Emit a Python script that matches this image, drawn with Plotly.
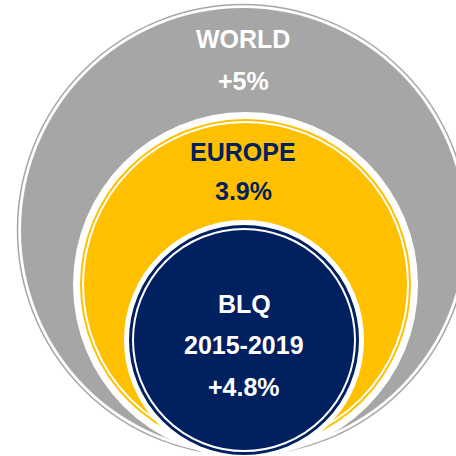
import plotly.graph_objects as go

# ---- data ----
regions = ["WORLD", "EUROPE", "BLQ<br>2015-2019"]
growth = ["+5%", "3.9%", "+4.8%"]

# ---- layout constants (geometry / styles) ----
W = H = 456
GRAY = "#A6A6A6"
YELLOW = "#FFC000"
NAVY = "#002060"
WHITE = "#FFFFFF"

# circle centres and radii (pixels)
world_c, world_r = (243, 230), 222
europe_c, europe_r = (245.5, 284.5), 172.5
blq_c, blq_r = (244, 340), 120

def circ(c, r, fill=None, line=None, lw=0):
    return dict(type="circle", xref="x", yref="y",
                x0=c[0] - r, x1=c[0] + r, y0=c[1] - r, y1=c[1] + r,
                fillcolor=fill if fill else "rgba(0,0,0,0)",
                line=dict(color=line if line else "rgba(0,0,0,0)", width=lw),
                layer="below")

shapes = [
    circ(world_c, world_r + 3.5, None, GRAY, 1.5),
    circ(world_c, world_r, GRAY),
    circ(europe_c, europe_r, WHITE),
    circ(europe_c, europe_r - 7, YELLOW),
    circ(europe_c, europe_r - 10, None, WHITE, 2),
    circ(blq_c, blq_r, WHITE),
    circ(blq_c, blq_r - 5, NAVY),
    circ(blq_c, blq_r - 9, None, WHITE, 2),
]

label_x = [243, 243, 244]
name_y = [39, 152, 304]
val_y = [81, 191, 387]
line_gap = 41
text_colors = [WHITE, NAVY, WHITE]
font_family = "Liberation Sans, Arial, sans-serif"
font_size = 25

fig = go.Figure()
for i in range(len(regions)):
    names = regions[i].split("<br>")
    for j, nm in enumerate(names):
        fig.add_annotation(x=label_x[i], y=name_y[i] + j * line_gap, text="<b>" + nm + "</b>",
                           showarrow=False, xref="x", yref="y",
                           font=dict(family=font_family, size=font_size, color=text_colors[i]))
    fig.add_annotation(x=label_x[i], y=val_y[i], text="<b>" + growth[i] + "</b>",
                       showarrow=False, xref="x", yref="y",
                       font=dict(family=font_family, size=font_size, color=text_colors[i]))

fig.update_layout(
    width=W, height=H,
    margin=dict(l=0, r=0, t=0, b=0),
    paper_bgcolor=WHITE, plot_bgcolor=WHITE,
    shapes=shapes,
    xaxis=dict(range=[0, W], visible=False, fixedrange=True),
    yaxis=dict(range=[H, 0], visible=False, fixedrange=True),
    showlegend=False,
)
fig.write_html("out.html", config={"displayModeBar": False},
               post_script="document.body.style.margin='0';document.body.style.overflow='hidden';")
